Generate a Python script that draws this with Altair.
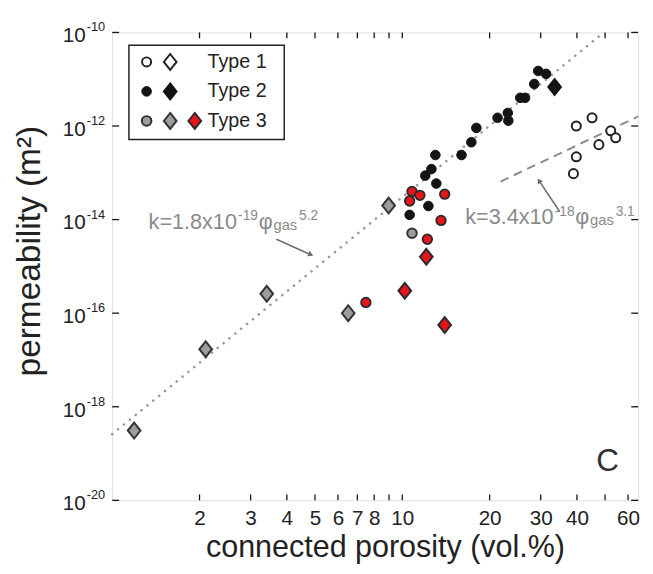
import altair as alt
import pandas as pd

# ---------------- data ----------------
# Type 1 (open circles)
t1_x = [39.8, 45.1, 52.3, 54.4, 47.6, 39.8, 38.9]
t1_y = [1.0e-12, 1.5e-12, 7.9e-13, 5.6e-13, 4.0e-13, 2.2e-13, 9.6e-14]
# Type 2 (black circles / black diamond)
t2_x = [10.6, 12.3, 13.1, 12.0, 12.6, 13.0, 16.0, 17.3, 18.0, 21.3, 23.1, 23.2,
        25.5, 26.5, 28.5, 29.4, 31.3]
t2_y = [1.26e-14, 1.95e-14, 5.9e-14, 8.7e-14, 1.2e-13, 2.4e-13, 2.4e-13, 4.5e-13,
        9.1e-13, 1.5e-12, 1.9e-12, 1.3e-12, 4.0e-12, 4.0e-12, 7.9e-12, 1.5e-11, 1.3e-11]
t2d_x = [33.5]
t2d_y = [6.8e-12]
# Type 3 (grey circle, grey diamonds, red circles, red diamonds)
t3c_x = [10.8]
t3c_y = [5.1e-15]
t3d_x = [1.19, 2.10, 3.41, 6.51, 8.97]
t3d_y = [3.1e-19, 1.7e-17, 2.6e-16, 1.0e-16, 2.0e-14]
t3r_x = [7.49, 10.8, 11.5, 10.6, 14.0, 13.6, 12.2]
t3r_y = [1.7e-16, 4.0e-14, 3.3e-14, 2.5e-14, 3.5e-14, 9.6e-15, 3.8e-15]
t3rd_x = [10.2, 12.1, 14.0]
t3rd_y = [3.0e-16, 1.6e-15, 5.6e-17]

# fit lines (end points)
fit1_x = [1.0, 49.5]
fit1_y = [2.6e-19, 1.0e-10]
fit2_x = [21.8, 65.0]
fit2_y = [6.5e-14, 1.6e-12]

# arrows (tail -> head)
arr1 = dict(x=[3.68], y=[3.8e-15], x2=[4.84], y2=[1.78e-15])
arr2 = dict(x=[34.9], y=[1.47e-14], x2=[29.6], y2=[6.8e-14])

# annotation anchors
ann1_x, ann1_y = [1.335], [6.2e-15]
ann2_x, ann2_y = [16.48], [7.9e-15]

# ticks
x_ticks = [2, 3, 4, 5, 6, 7, 8, 9, 10, 20, 30, 40, 50, 60]
y_ticks = [1e-10, 1e-12, 1e-14, 1e-16, 1e-18, 1e-20]
y_exp = ["-10", "-12", "-14", "-16", "-18", "-20"]

legend_labels = ["Type 1", "Type 2", "Type 3"]

# ---------------- layout ----------------
W, H = 535, 476
FONT = "Liberation Sans"
DIAMOND = "M0,-1L0.8,0L0,1L-0.8,0Z"
GREY_TXT = "#8a8a8a"

xs = alt.Scale(type="log", domain=[1, 65], nice=False)
ys = alt.Scale(type="log", domain=[1e-20, 1e-10], nice=False)

X = alt.X("x:Q", scale=xs,
          axis=alt.Axis(values=x_ticks, ticks=False, domain=False, grid=False,
                        labelExpr="(datum.value == 9 || datum.value == 50) ? '' : datum.label",
                        labelFontSize=21, labelFont=FONT, labelColor="#222",
                        labelPadding=8, labelFlush=False,
                        title="connected porosity (vol.%)", titleFontSize=31,
                        titleFont=FONT, titleFontWeight="normal", titleColor="#222",
                        titlePadding=4, titleX=W / 2 + 10))
Y = alt.Y("y:Q", scale=ys,
          axis=alt.Axis(ticks=False, labels=False, domain=False, grid=False,
                        title="permeability (m²)", titleFontSize=34, titleFont=FONT,
                        titleFontWeight="normal", titleColor="#222", titlePadding=67,
                        titleY=H / 2 - 16))
Xn = alt.X("x:Q", scale=xs)
Yn = alt.Y("y:Q", scale=ys)


def df(xv, yv):
    return pd.DataFrame({"x": xv, "y": yv})


one = pd.DataFrame({"d": [0]})

layers = []

# fit lines
layers.append(alt.Chart(df(fit1_x, fit1_y)).mark_line(
    color="#9a9a9a", strokeWidth=2.6, strokeDash=[0.1, 7.6], strokeCap="round").encode(x=X, y=Y))
layers.append(alt.Chart(df(fit2_x, fit2_y)).mark_line(
    color="#8a8a8a", strokeWidth=2, strokeDash=[9, 6]).encode(x=Xn, y=Yn))


# points
def circles(xv, yv, fill, stroke, sw=1.5, size=95):
    return alt.Chart(df(xv, yv)).mark_point(
        shape="circle", filled=True, fill=fill, stroke=stroke, strokeWidth=sw,
        size=size, opacity=1).encode(x=Xn, y=Yn)


def diamonds(xv, yv, fill, stroke, sw=2, size=260):
    return alt.Chart(df(xv, yv)).mark_point(
        shape=DIAMOND, filled=True, fill=fill, stroke=stroke, strokeWidth=sw,
        size=size, opacity=1).encode(x=Xn, y=Yn)


layers.append(circles(t1_x, t1_y, "white", "#222", sw=2, size=85))
layers.append(circles(t2_x, t2_y, "#141414", "#141414", sw=1))
layers.append(diamonds(t2d_x, t2d_y, "#141414", "#141414"))
layers.append(diamonds(t3d_x, t3d_y, "#9c9c9c", "#333"))
layers.append(circles(t3c_x, t3c_y, "#9c9c9c", "#333", sw=2))
layers.append(circles(t3r_x, t3r_y, "#e8141c", "#2a2a2a", sw=1.8))
layers.append(diamonds(t3rd_x, t3rd_y, "#e8141c", "#2a2a2a"))

# arrows
for arr, ang in ((arr1, 114.6), (arr2, 327.0)):
    a = pd.DataFrame(arr)
    layers.append(alt.Chart(a).mark_rule(color="#6e6e6e", strokeWidth=1.6).encode(
        x=Xn, y=Yn, x2="x2:Q", y2="y2:Q"))
    layers.append(alt.Chart(a).mark_point(
        shape="triangle-up", filled=True, color="#6e6e6e", size=38, angle=ang,
        opacity=1).encode(x=alt.X("x2:Q", scale=xs), y=alt.Y("y2:Q", scale=ys)))


# annotation texts
def ann(xv, yv, pieces):
    out = []
    for txt, dx, dy, fs in pieces:
        out.append(alt.Chart(df(xv, yv)).mark_text(
            text=txt, align="left", baseline="alphabetic", dx=dx, dy=dy,
            fontSize=fs, font=FONT, color=GREY_TXT).encode(x=Xn, y=Yn))
    return out


PIECES = [(0, 0, 22), (91, -9, 14), (112, 0, 22), (127, 1, 15), (153, -9, 14)]
layers += ann(ann1_x, ann1_y, [(t,) + p for t, p in zip(["k=1.8x10", "-19", "φ", "gas", "5.2"], PIECES)])
layers += ann(ann2_x, ann2_y, [(t,) + p for t, p in zip(["k=3.4x10", "-18", "φ", "gas", "3.1"], PIECES)])

# inward ticks on all four sides
xt = pd.DataFrame({"x": x_ticks})
yt = pd.DataFrame({"y": y_ticks})
tk = dict(color="#111", strokeWidth=1.3)
layers.append(alt.Chart(xt).mark_rule(**tk).encode(x=Xn, y=alt.value(H), y2=alt.value(H - 6)))
layers.append(alt.Chart(xt).mark_rule(**tk).encode(x=Xn, y=alt.value(0), y2=alt.value(6)))
layers.append(alt.Chart(yt).mark_rule(**tk).encode(y=Yn, x=alt.value(0), x2=alt.value(7)))
layers.append(alt.Chart(yt).mark_rule(**tk).encode(y=Yn, x=alt.value(W), x2=alt.value(W - 7)))

# y tick labels: 10 with superscript exponent
ylab = pd.DataFrame({"y": y_ticks, "e": y_exp})
layers.append(alt.Chart(ylab).mark_text(
    text="10", align="right", baseline="middle", dx=0, dy=4, fontSize=21, font=FONT,
    color="#222").encode(y=Yn, x=alt.value(-27)))
layers.append(alt.Chart(ylab).mark_text(
    align="left", baseline="middle", dy=-5, fontSize=13, font=FONT,
    color="#222").encode(y=Yn, x=alt.value(-26), text="e:N"))

# panel letter
layers.append(alt.Chart(one).mark_text(
    text="C", fontSize=32, font=FONT, color="#333", align="center",
    baseline="middle").encode(x=alt.value(504), y=alt.value(436)))

# legend box
layers.append(alt.Chart(one).mark_rect(fill="white", stroke="#222", strokeWidth=1.5).encode(
    x=alt.value(17), x2=alt.value(175), y=alt.value(13), y2=alt.value(109)))
rows = [30, 60, 90]


def lsym(shape, fill, stroke, sw, size, px, py):
    return alt.Chart(one).mark_point(shape=shape, filled=True, fill=fill, stroke=stroke,
                                     strokeWidth=sw, size=size, opacity=1).encode(
        x=alt.value(px), y=alt.value(py))


layers.append(lsym("circle", "white", "#222", 2, 85, 35, rows[0]))
layers.append(lsym(DIAMOND, "white", "#222", 2, 260, 59, rows[0]))
layers.append(lsym("circle", "#141414", "#141414", 1, 95, 35, rows[1]))
layers.append(lsym(DIAMOND, "#141414", "#141414", 2, 260, 59, rows[1]))
layers.append(lsym("circle", "#9c9c9c", "#333", 2, 95, 35, rows[2]))
layers.append(lsym(DIAMOND, "#9c9c9c", "#333", 2, 260, 59, rows[2]))
layers.append(lsym(DIAMOND, "#e8141c", "#2a2a2a", 2, 260, 84, rows[2]))
for lab, ry in zip(legend_labels, rows):
    layers.append(alt.Chart(one).mark_text(
        text=lab, align="left", baseline="middle", fontSize=20, font=FONT,
        color="#222").encode(x=alt.value(97), y=alt.value(ry)))

chart = alt.layer(*layers).properties(
    width=W, height=H,
    padding={"left": 5, "top": 9, "right": 3, "bottom": 3}).configure_view(
    stroke="#111", strokeWidth=1.5).configure(background="white")

chart.save("out.html", embed_options={"renderer": "svg", "actions": False})
